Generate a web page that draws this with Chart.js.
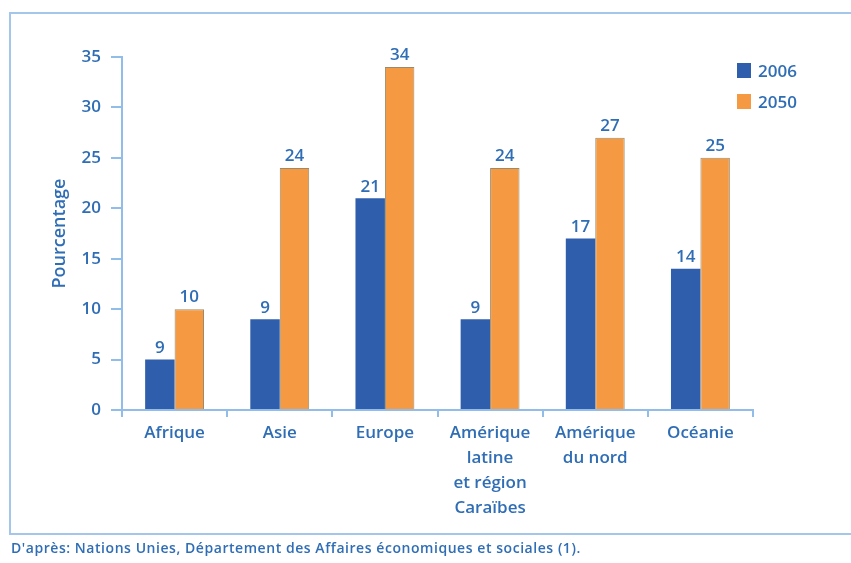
<!DOCTYPE html>
<html>
<head>
<meta charset="utf-8">
<script src="https://cdn.jsdelivr.net/npm/chart.js@4"></script>
<style>
  html,body{margin:0;padding:0;background:#fff;width:851px;height:563px;overflow:hidden;font-family:'Open Sans',sans-serif}
  #frame{position:absolute;left:9px;top:12px;right:-60px;height:519px;border-top:2px solid #a3c6ea;border-left:2px solid #a3c6ea;border-bottom:2px solid #a3c6ea}
  #chart{position:absolute;left:0;top:0}
  #legend{position:absolute;left:737px;top:55px}
  .lg-row{display:flex;align-items:center;height:31px}
  .lg-box{width:14px;height:15px;margin-right:7px}
  .lg-txt{font-size:17px;font-weight:600;color:#2f6db5}
  #source{position:absolute;left:11px;top:538px;font-size:14px;letter-spacing:0.55px;font-weight:600;color:#2f6db5;white-space:nowrap}
</style>
</head>
<body>
<div id="frame"></div>
<canvas id="chart" width="851" height="563"></canvas>
<div id="legend"></div>
<div id="source">D'après: Nations Unies, Département des Affaires économiques et sociales (1).</div>
<script>
// ─── DATA ───────────────────────────────────────────────
const categories=[['Afrique'],['Asie'],['Europe'],['Amérique','latine','et région','Caraïbes'],['Amérique','du nord'],['Océanie']];
const seriesNames=['2006','2050'];
const values2006=[5,9,21,9,17,14];
const values2050=[10,24,34,24,27,25];
// printed labels (Afrique 2006 bar is drawn at 5 but labelled 9 in the source)
const labels2006=['9','9','21','9','17','14'];
const labels2050=['10','24','34','24','27','25'];
const yTicks=[0,5,10,15,20,25,30,35];

const BLUE='#2f5fac', ORANGE='#f59a42', TEXT='#2f6db5', AXIS='#92bde8';
const colors=[BLUE,ORANGE];
const font={family:"'Open Sans', sans-serif",weight:'600',size:17};

// ─── LEGEND ─────────────────────────────────────────────
document.getElementById('legend').innerHTML=seriesNames.map((n,i)=>
  `<div class="lg-row"><div class="lg-box" style="background:${colors[i]}"></div><span class="lg-txt">${n}</span></div>`).join('');

// ─── VALUE LABELS ───────────────────────────────────────
const valueLabels={
  id:'valueLabels',
  afterDatasetsDraw(chart){
    const ctx=chart.ctx;
    const texts=[labels2006,labels2050];
    ctx.save();
    ctx.font=`600 17px 'Open Sans', sans-serif`;
    ctx.fillStyle=TEXT;
    ctx.textAlign='center';
    ctx.textBaseline='bottom';
    chart.data.datasets.forEach((ds,di)=>{
      chart.getDatasetMeta(di).data.forEach((bar,i)=>{
        ctx.fillText(texts[di][i],bar.x,bar.y-3);
      });
    });
    ctx.restore();
  }
};

new Chart(document.getElementById('chart'),{
  type:'bar',
  data:{
    labels:categories,
    datasets:[
      {label:seriesNames[0],data:values2006,backgroundColor:BLUE,borderWidth:0},
      {label:seriesNames[1],data:values2050,backgroundColor:ORANGE,borderColor:'#9a8a6a',borderWidth:1}
    ]
  },
  options:{
    responsive:false,
    animation:false,
    layout:{padding:{left:45,top:57,right:98,bottom:0}},
    datasets:{bar:{categoryPercentage:0.56,barPercentage:1}},
    plugins:{legend:{display:false},tooltip:{enabled:false}},
    scales:{
      x:{
        offset:true,
        grid:{offset:true,drawOnChartArea:false,color:AXIS,lineWidth:2,tickLength:7},
        border:{color:AXIS,width:2},
        ticks:{color:TEXT,font:{...font,lineHeight:1.47},padding:4,maxRotation:0,autoSkip:false},
        afterFit(s){s.height=153;}
      },
      y:{
        min:0,max:35,
        afterBuildTicks(s){s.ticks=yTicks.map(v=>({value:v}));},
        grid:{drawOnChartArea:false,color:AXIS,lineWidth:2,tickLength:11},
        border:{color:AXIS,width:2},
        ticks:{color:TEXT,font,padding:10},
        title:{display:true,text:'Pourcentage',color:TEXT,font:{...font,size:18},padding:{top:4,bottom:0}},
        afterFit(s){s.width=77;}
      }
    }
  },
  plugins:[valueLabels]
});
</script>
</body>
</html>
